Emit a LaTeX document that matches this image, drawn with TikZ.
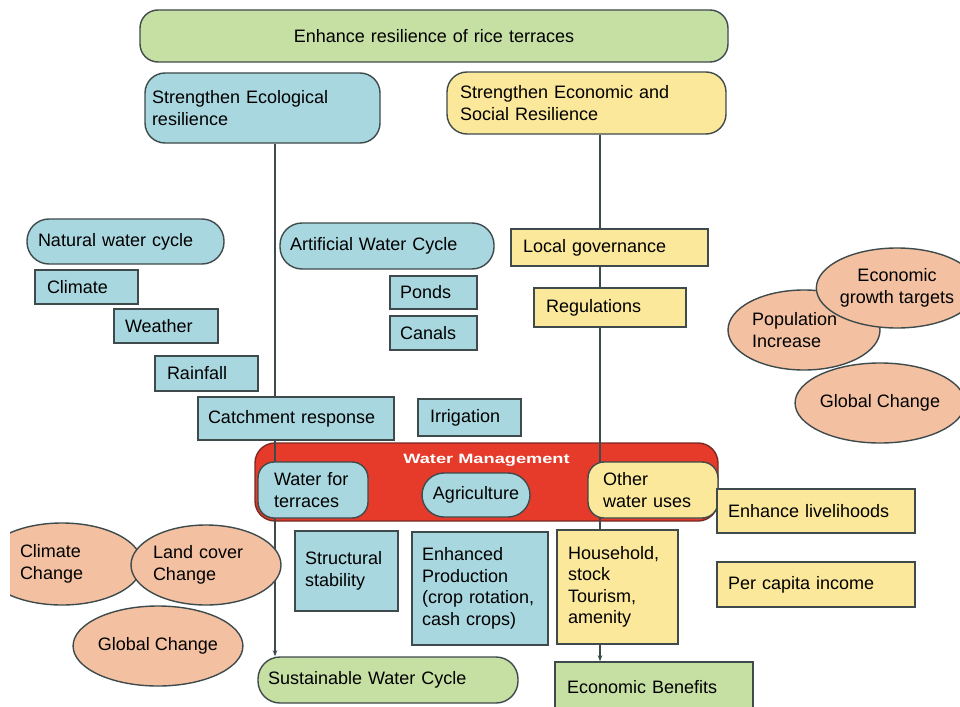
\documentclass[tikz,border=0pt]{standalone}
\usepackage{fontspec}
\usepackage{graphicx}
\setmainfont{Liberation Sans}
\usetikzlibrary{shapes.geometric,arrows.meta}
\definecolor{bfill}{HTML}{A9D7DF}
\definecolor{yfill}{HTML}{FBE89A}
\definecolor{gfill}{HTML}{C6E0A4}
\definecolor{sfill}{HTML}{F3C1A1}
\definecolor{rfill}{HTML}{E63B2B}
\definecolor{edge}{HTML}{3E4A4C}
\definecolor{redge}{HTML}{7A2A22}
\tikzset{
  base/.style={draw=edge, line width=1.4pt, inner xsep=0pt, inner ysep=0pt,
    font=\fontsize{18}{21.5}\selectfont, text=black, align=left},
  bx/.style n args={3}{base, rectangle, minimum width=#1pt, minimum height=#2pt, text width=#3pt},
  blue/.style={fill=bfill}, yel/.style={fill=yfill}, grn/.style={fill=gfill},
  ell/.style n args={2}{base, ellipse, fill=sfill, minimum width=#1pt, minimum height=#2pt},
  conn/.style={draw=edge, line width=1.2pt, -{Stealth[length=6pt,width=4.5pt]}}
}
\begin{document}
\begin{tikzpicture}[x=1pt,y=-1pt]
\useasboundingbox (0,0) rectangle (960,706);
\fill[white] (0,0) rectangle (960,706);

% top level
\node[bx={588}{52}{560}, grn, rounded corners=18pt, align=center] (top) at (434,36) {Enhance resilience of rice terraces};
\node[bx={235}{70}{221}, blue, rounded corners=20pt] (eco) at (262.5,108) {Strengthen Ecological\\resilience};
\node[bx={279}{62}{253}, yel, rounded corners=20pt] (econ) at (586.5,103) {Strengthen Economic and\\Social Resilience};

% bottom outcomes (needed as connector targets)
\node[bx={260}{46}{240}, grn, rounded corners=22pt] (sus) at (388,680) {Sustainable Water Cycle};
\node[bx={198}{50}{174}, grn] (ben) at (654,687) {Economic Benefits};

% vertical connectors (behind boxes)
\coordinate (ecoTop) at ([xshift=12.5pt]eco.south);
\coordinate (econTop) at ([xshift=13.5pt]econ.south);
\draw[conn] (ecoTop) -- (ecoTop |- sus.north);
\draw[conn] (econTop) -- (econTop |- ben.north);

% natural water cycle
\node[bx={197}{45}{175}, blue, rounded corners=22pt] (nwc) at (125.5,241.5) {Natural water cycle};
\node[bx={103}{34}{79}, blue] (clim) at (86.5,287) {Climate};
\node[bx={104}{34}{82}, blue] (weath) at (166,326) {Weather};
\node[bx={103}{35}{79}, blue] (rain) at (206.5,373.5) {Rainfall};
\node[bx={196}{43}{176}, blue] (catch) at (296,418.5) {Catchment response};

% artificial water cycle
\node[bx={214}{46}{194}, blue, rounded corners=22pt] (awc) at (387,246) {Artificial Water Cycle};
\node[bx={87}{33}{67}, blue] (ponds) at (433.5,292.5) {Ponds};
\node[bx={87}{34}{67}, blue] (canals) at (433.5,333) {Canals};
\node[bx={103}{37}{79}, blue] (irr) at (469.5,417.5) {Irrigation};

% governance
\node[bx={197}{37}{173}, yel] (gov) at (609.5,247.5) {Local governance};
\node[bx={152}{39}{128}, yel] (reg) at (610,307.5) {Regulations};

% right drivers
\node[ell={152}{80}, text width=104pt] (pop) at (804,330) {Population\\Increase};
\node[ell={136}{80}, align=center] (egt) at (897,288) {Economic\\growth targets};
\node[ell={150}{80}, align=center] (glr) at (880,403) {Global Change};

% water management
\node[draw=redge, fill=rfill, line width=1.4pt, rounded corners=20pt, minimum width=463pt, minimum height=78pt, inner sep=0pt,
  label={[name=wmt, anchor=center, yshift=-18pt, text=white, font=\bfseries\fontsize{13.5}{13.5}\selectfont]north:\scalebox{1.35}[1]{Water Management}}] (wm) at (486.5,482) {};
\draw[edge, line width=1.2pt] (ecoTop |- wm.north) -- (ecoTop |- wm.south);
\draw[edge, line width=1.2pt] (econTop |- wm.north) -- (econTop |- wm.south);
\node[bx={110}{56}{78}, blue, rounded corners=16pt] (wft) at (313,490) {Water for\\terraces};
\node[bx={108}{44}{90}, blue, rounded corners=22pt, align=center] (agri) at (476,495) {Agriculture};
\node[bx={130}{56}{100}, yel, rounded corners=16pt] (owu) at (653,490) {Other\\water uses};

% economic outcomes
\node[bx={198}{44}{176}, yel] (liv) at (816,511) {Enhance livelihoods};
\node[bx={198}{45}{176}, yel] (pci) at (816,584.5) {Per capita income};

% benefits of water uses
\node[bx={103}{80}{83}, blue] (struct) at (346.5,571) {Structural\\stability};
\node[bx={136}{113}{116}, blue] (prod) at (480,588.5) {Enhanced\\Production\\(crop rotation,\\cash crops)};
\node[bx={121}{114}{99}, yel] (house) at (617.5,587) {Household,\\stock\\Tourism,\\amenity};

% left drivers
\begin{scope}
  \clip (10,0) rectangle (960,706);
  \node[ell={160}{82}, text width=84pt] (cc) at (62,564) {Climate\\Change};
\end{scope}
\node[ell={150}{80}, text width=106pt] (lc) at (206,565) {Land cover\\Change};
\node[ell={152}{80}, align=center] (gll) at (158,646) {Global Change};
\end{tikzpicture}
\end{document}
